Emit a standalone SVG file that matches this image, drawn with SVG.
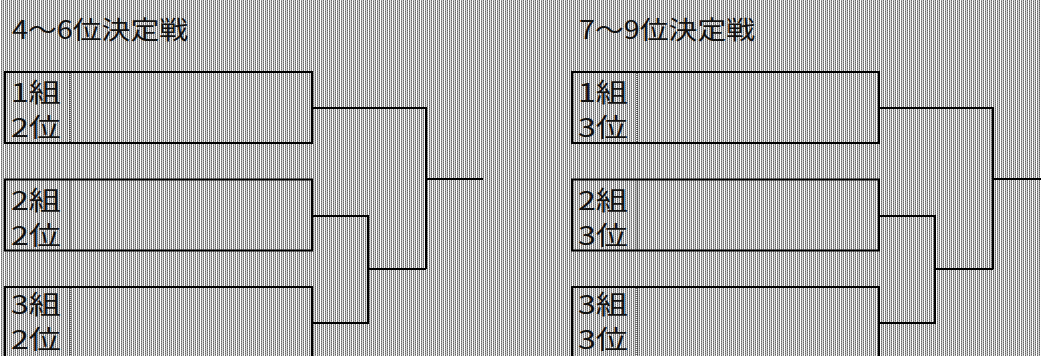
<svg xmlns="http://www.w3.org/2000/svg" width="1041" height="356" viewBox="0 0 1041 356">
<defs>
<pattern id="bg" x="0" y="0" width="4" height="2" patternUnits="userSpaceOnUse">
<rect x="0" y="0" width="4" height="2" fill="#ffffff"/>
<rect x="1" y="0" width="1" height="1" fill="#9a9a9a"/>
<rect x="1" y="1" width="1" height="1" fill="#666666"/>
<rect x="2" y="0" width="1" height="2" fill="#dcdcdc"/>
<rect x="3" y="0" width="1" height="1" fill="#666666"/>
<rect x="3" y="1" width="1" height="1" fill="#9a9a9a"/>
</pattern>
<style>
.box{fill:none;stroke:#000;stroke-width:2}
.dot{stroke:#000;stroke-width:1;stroke-dasharray:1 1}
.t{font-family:"Noto Sans CJK JP","Noto Sans",sans-serif;font-size:26px;fill:#111}
.h{font-family:"Noto Sans CJK JP","Noto Sans",sans-serif;font-size:25px;fill:#111}
.c{fill:none;stroke:#000;stroke-width:2}
</style>
</defs>
<rect x="0" y="0" width="1041" height="356" fill="url(#bg)"/>
<text class="h" x="12" y="39" textLength="176" lengthAdjust="spacingAndGlyphs">4〜6位決定戦</text>
<text class="h" x="579" y="39" textLength="176" lengthAdjust="spacingAndGlyphs">7〜9位決定戦</text>
<g id="L1">
<rect class="box" x="5" y="72" width="307" height="71"/>
<line class="dot" x1="70" y1="73" x2="70" y2="142"/>
<text class="t" x="11" y="102" textLength="50" lengthAdjust="spacingAndGlyphs">1組</text>
<text class="t" x="11" y="137" textLength="50" lengthAdjust="spacingAndGlyphs">2位</text>
</g>
<g id="L2">
<rect class="box" x="5" y="179.5" width="307" height="71"/>
<line class="dot" x1="70" y1="180.5" x2="70" y2="249.5"/>
<text class="t" x="11" y="209.5" textLength="50" lengthAdjust="spacingAndGlyphs">2組</text>
<text class="t" x="11" y="244.5" textLength="50" lengthAdjust="spacingAndGlyphs">2位</text>
</g>
<g id="L3">
<rect class="box" x="5" y="287" width="307" height="71"/>
<line class="dot" x1="70" y1="288" x2="70" y2="357"/>
<text class="t" x="11" y="314" textLength="50" lengthAdjust="spacingAndGlyphs">3組</text>
<text class="t" x="11" y="349" textLength="50" lengthAdjust="spacingAndGlyphs">2位</text>
</g>
<g id="R1">
<rect class="box" x="572" y="72" width="307" height="71"/>
<line class="dot" x1="637" y1="73" x2="637" y2="142"/>
<text class="t" x="578" y="102" textLength="50" lengthAdjust="spacingAndGlyphs">1組</text>
<text class="t" x="578" y="137" textLength="50" lengthAdjust="spacingAndGlyphs">3位</text>
</g>
<g id="R2">
<rect class="box" x="572" y="179.5" width="307" height="71"/>
<line class="dot" x1="637" y1="180.5" x2="637" y2="249.5"/>
<text class="t" x="578" y="209.5" textLength="50" lengthAdjust="spacingAndGlyphs">2組</text>
<text class="t" x="578" y="244.5" textLength="50" lengthAdjust="spacingAndGlyphs">3位</text>
</g>
<g id="R3">
<rect class="box" x="572" y="287" width="307" height="71"/>
<line class="dot" x1="637" y1="288" x2="637" y2="357"/>
<text class="t" x="578" y="314" textLength="50" lengthAdjust="spacingAndGlyphs">3組</text>
<text class="t" x="578" y="349" textLength="50" lengthAdjust="spacingAndGlyphs">3位</text>
</g>
<g id="connectors">
<path class="c" d="M312 216 H368 V323 H312"/>
<path class="c" d="M368 269 H426"/>
<path class="c" d="M312 108 H426 V269"/>
<path class="c" d="M426 179 H483"/>
<path class="c" d="M879 216 H935 V323 H879"/>
<path class="c" d="M935 269 H993"/>
<path class="c" d="M879 108 H993 V269"/>
<path class="c" d="M993 179 H1041"/>
</g>
</svg>
